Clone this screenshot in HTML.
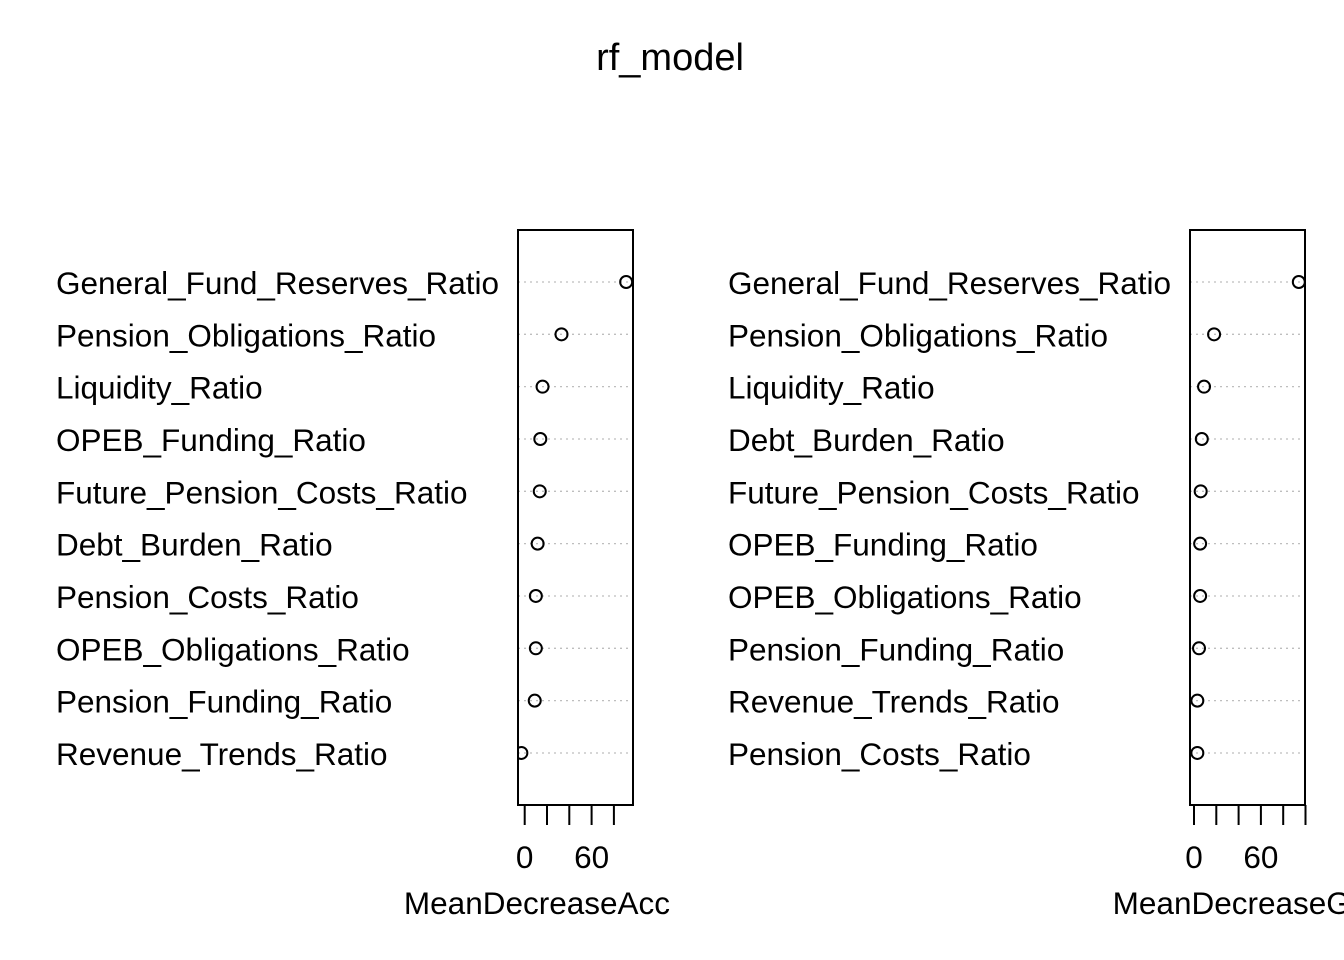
<!DOCTYPE html>
<html><head><meta charset="utf-8"><style>body{margin:0;background:#fff}svg{display:block}text{font-family:"Liberation Sans",Arial,sans-serif;fill:#000}</style></head>
<body>
<svg id="c" width="1344" height="960" xmlns="http://www.w3.org/2000/svg">
<defs><clipPath id="clipL"><rect x="0" y="0" width="672" height="960"/></clipPath>
<clipPath id="boxL"><rect x="518" y="230" width="115" height="575"/></clipPath>
<clipPath id="boxR"><rect x="1190" y="230" width="115" height="575"/></clipPath></defs>
<text x="670" y="70" font-size="38" text-anchor="middle">rf_model</text>
</svg>
<script>
const labelsAcc = ["General_Fund_Reserves_Ratio","Pension_Obligations_Ratio","Liquidity_Ratio","OPEB_Funding_Ratio","Future_Pension_Costs_Ratio","Debt_Burden_Ratio","Pension_Costs_Ratio","OPEB_Obligations_Ratio","Pension_Funding_Ratio","Revenue_Trends_Ratio"];
const valuesAcc = [91,33,16,14,13.5,11.6,10,10,9,-3];
const labelsGini = ["General_Fund_Reserves_Ratio","Pension_Obligations_Ratio","Liquidity_Ratio","Debt_Burden_Ratio","Future_Pension_Costs_Ratio","OPEB_Funding_Ratio","OPEB_Obligations_Ratio","Pension_Funding_Ratio","Revenue_Trends_Ratio","Pension_Costs_Ratio"];
const valuesGini = [94,18,9,7,6,5.5,5.5,4.5,3,3];
const ticksAcc = [0,20,40,60,80];
const ticksGini = [0,20,40,60,80,100];
const tickLabels = [0,60];
const svg = document.getElementById('c');
const NS = "http://www.w3.org/2000/svg";
function mk(tag, attrs, parent){const e=document.createElementNS(NS,tag);for(const k in attrs)e.setAttribute(k,attrs[k]);(parent||svg).appendChild(e);return e;}
function panel(opts){
  const {x0,x1,zeroX,labelX,labels,values,ticks,title,name,clip,boxClip}=opts;
  const g=mk('g',{});
  
  
  if(clip) g.setAttribute('clip-path',clip);
  const pg=mk('g',{'clip-path':boxClip},g);
  const sx=v=>zeroX+v*(22.3/20);
  const yTop=282, step=52.33;
  const sy=i=>yTop+i*step;
  labels.forEach((l,i)=>{
    const y=sy(i);
    const ln=mk('line',{x1:x0,x2:x1,y1:y,y2:y,stroke:'#bebebe','stroke-width':1.3,'stroke-dasharray':'2,4'},pg);
    
    
    const t=mk('text',{x:labelX,y:y+12,'font-size':31.5},g);t.textContent=l;
    
    
    const c=mk('circle',{cx:sx(values[i]),cy:y,r:6,fill:'none',stroke:'#000','stroke-width':2},pg);
    
    
  });
  const box=mk('rect',{x:x0,y:230,width:x1-x0,height:575,fill:'none',stroke:'#000','stroke-width':2},g);
  
  
  ticks.forEach(v=>{
    const tk=mk('line',{x1:sx(v),x2:sx(v),y1:805,y2:825,stroke:'#000','stroke-width':2},g);
    
    
  });
  tickLabels.forEach(v=>{
    const t=mk('text',{x:sx(v),y:868,'font-size':31.5,'text-anchor':'middle'},g);t.textContent=v;
    
    
  });
  const xt=mk('text',{x:(x0+x1)/2,y:914,'font-size':31.5,'text-anchor':'middle'},g);xt.textContent=title;
  
  
}
panel({x0:518,x1:633,zeroX:524.7,labelX:56,labels:labelsAcc,values:valuesAcc,ticks:ticksAcc,title:'MeanDecreaseAccuracy',name:'accuracy',clip:'url(#clipL)',boxClip:'url(#boxL)'});
panel({x0:1190,x1:1305,zeroX:1194,labelX:728,labels:labelsGini,values:valuesGini,ticks:ticksGini,title:'MeanDecreaseGini',name:'gini',clip:null,boxClip:'url(#boxR)'});
</script>
</body></html>
